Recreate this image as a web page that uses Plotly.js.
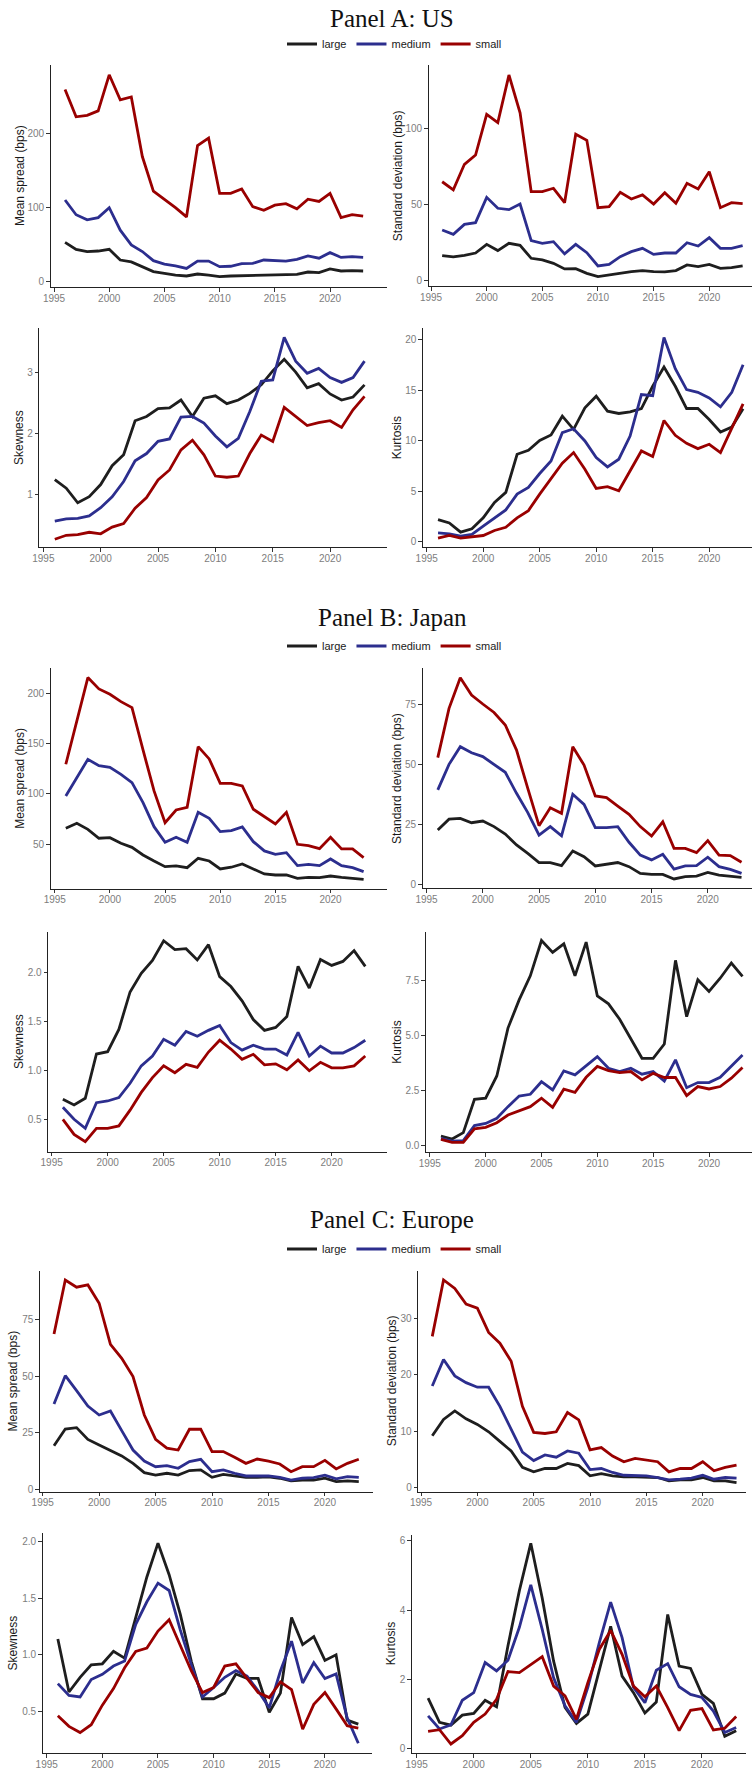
<!DOCTYPE html>
<html><head><meta charset="utf-8">
<script src="https://cdn.plot.ly/plotly-3.0.1.min.js"></script>
<style>html,body{margin:0;padding:0;background:#fff}#chart{width:752px;height:1769px}</style>
</head><body><div id="chart"></div>
<script>
const years = [1996,1997,1998,1999,2000,2001,2002,2003,2004,2005,2006,2007,2008,2009,2010,2011,2012,2013,2014,2015,2016,2017,2018,2019,2020,2021,2022,2023];
const seriesNames = ['large','medium','small'];
const xTicks = [1995,2000,2005,2010,2015,2020];
const panelTitles = ['Panel A: US','Panel B: Japan','Panel C: Europe'];
const statTitles = ['Mean spread (bps)','Standard deviation (bps)','Skewness','Kurtosis'];

// Panel A: US
const usMeanLarge  = [52.5,43,40,40.7,43,28.5,26,19.5,12.7,10.4,8,6.8,9.5,8,5.9,6.8,7.2,7.2,8,8,8,9,12.2,11.3,16.3,13.6,14,13.6];
const usMeanMedium = [110,90,83,86,99.5,69,49,40,27.6,23,20.4,17,27,27,19.5,20,23.5,24,28.5,27.6,27,29.4,34,31,38.5,32,33,32];
const usMeanSmall  = [260,223,225,231,280,246,250,169,122,111,99.5,87,184,194,119,119,125,101,96,103,105,98,111,108,119,86,90,88];
const usSdLarge  = [16.3,15.4,16.5,18,23.7,19.6,24.4,23.1,14.5,13.4,11.2,7.5,7.7,4.6,2.4,3.5,4.8,5.7,6.4,5.7,5.5,6.4,10.1,9,10.5,7.9,8.4,9.5];
const usSdMedium = [33.2,30.3,36.9,38,54.7,47.5,46.6,50.3,26.2,24.4,25.5,17.4,23.7,18.2,9.5,10.5,15.6,18.9,21.1,17.1,18,18,24.8,22.6,28.1,21.1,21.1,22.9];
const usSdSmall  = [65,59.6,76.5,82.6,109.5,104,135.4,110.5,58.5,58.5,60.7,51.2,96.3,92.3,47.9,48.6,58,53.6,56.3,50.3,57.8,50.8,64,60.2,71.6,47.9,51.2,50.5];
const usSkewLarge  = [1.24,1.10,0.86,0.96,1.16,1.47,1.65,2.21,2.28,2.41,2.42,2.55,2.28,2.58,2.62,2.49,2.55,2.66,2.80,3.03,3.22,3.01,2.75,2.82,2.65,2.55,2.60,2.80];
const usSkewMedium = [0.56,0.595,0.605,0.644,0.78,0.96,1.21,1.55,1.67,1.87,1.91,2.27,2.28,2.17,1.96,1.78,1.92,2.36,2.86,2.88,3.58,3.19,2.99,3.07,2.92,2.84,2.92,3.19];
const usSkewSmall  = [0.26,0.326,0.337,0.375,0.35,0.46,0.52,0.77,0.945,1.236,1.40,1.73,1.89,1.65,1.30,1.28,1.30,1.67,1.975,1.87,2.43,2.28,2.13,2.18,2.21,2.10,2.39,2.61];
const usKurtLarge  = [2.17,1.84,0.92,1.25,2.34,3.88,4.87,8.65,9.05,10.03,10.56,12.43,11.12,13.26,14.41,12.93,12.7,12.86,13.19,15.4,17.3,15.4,13.19,13.19,12.1,10.86,11.35,13.16];
const usKurtMedium = [0.86,0.76,0.53,0.69,1.51,2.34,3.13,4.70,5.36,6.74,7.99,10.79,11.18,9.97,8.32,7.40,8.16,10.46,14.57,14.47,20.23,17.14,15.07,14.8,14.24,13.36,14.8,17.53];
const usKurtSmall  = [0.33,0.59,0.33,0.49,0.59,1.09,1.41,2.34,3.06,4.70,6.18,7.76,8.82,7.17,5.26,5.43,5.03,7.0,8.98,8.42,12.0,10.53,9.74,9.21,9.64,8.82,11.3,13.65];

// Panel B: Japan
const jpMeanLarge  = [65.9,70.9,64.9,56,56.6,51,47,39.4,33.4,27.8,28.5,26.8,36.1,33.4,25.5,27.2,30.5,25.2,20.5,19.5,19.5,16.2,17.2,16.9,18.5,17.2,16.2,15.2];
const jpMeanMedium = [98,115.6,134.4,128.1,126.5,119.5,111.3,91.4,67.5,52,57,52,81.8,75.8,62.6,63.6,67.2,52.6,43.4,40,41.7,28.8,30.1,28.8,35.4,28.8,26.8,22.8];
const jpMeanSmall  = [129.5,173.5,215.6,204.3,199,191.7,185.8,143.7,103,71.5,84.1,86.8,147,134.8,110.6,110.6,107.9,84.8,77.5,70.2,81.8,50,48.7,45.7,57,45.4,45.4,36.8];
const jpSdLarge  = [22.8,27.3,27.6,25.8,26.5,24.2,21.1,16.6,13.1,9.3,9.3,8,14.1,11.7,7.9,8.7,9.3,7.6,4.8,4.4,4.4,2.5,3.5,3.7,5.2,4.1,3.5,3.2];
const jpSdMedium = [39.4,50,57.3,54.8,53.2,50,46.7,38,30,20.7,24.2,20.4,37.6,33.4,23.8,23.8,24.2,17.7,12.4,10.4,12.7,6.6,7.9,8,11.5,7.6,6.5,4.8];
const jpSdSmall  = [52.8,73.2,85.9,78.7,75,71.5,66.3,55.9,40,24.6,32,29.7,57.3,49.7,36.9,36.2,32.7,29.3,24.2,20.3,26.2,15.2,15.2,13.4,18.4,12.4,12.2,9.4];
const jpSkewLarge  = [0.71,0.652,0.72,1.17,1.194,1.42,1.80,1.99,2.12,2.32,2.23,2.24,2.125,2.28,1.956,1.855,1.71,1.52,1.41,1.44,1.55,2.06,1.84,2.13,2.07,2.11,2.22,2.06];
const jpSkewMedium = [0.63,0.507,0.415,0.676,0.693,0.727,0.873,1.05,1.15,1.32,1.26,1.40,1.35,1.41,1.46,1.286,1.21,1.26,1.22,1.22,1.16,1.39,1.15,1.25,1.18,1.18,1.235,1.31];
const jpSkewSmall  = [0.507,0.354,0.28,0.415,0.415,0.44,0.60,0.78,0.93,1.05,0.98,1.065,1.035,1.19,1.31,1.22,1.116,1.167,1.06,1.07,1.01,1.11,1.0,1.086,1.03,1.03,1.05,1.15];
const jpKurtLarge  = [0.44,0.30,0.59,2.10,2.15,3.16,5.33,6.61,7.70,9.30,8.76,9.15,7.70,9.23,6.79,6.43,5.73,4.84,3.96,3.96,4.61,8.40,5.85,7.52,6.99,7.59,8.28,7.67];
const jpKurtMedium = [0.33,0.21,0.23,0.91,1.01,1.24,1.77,2.25,2.33,2.90,2.53,3.39,3.21,3.62,4.04,3.51,3.36,3.51,3.24,3.36,2.93,3.89,2.63,2.86,2.86,3.10,3.62,4.11];
const jpKurtSmall  = [0.29,0.15,0.15,0.76,0.83,1.04,1.39,1.59,1.77,2.15,1.74,2.56,2.42,3.10,3.59,3.40,3.31,3.36,2.98,3.28,3.09,3.09,2.27,2.68,2.57,2.68,3.06,3.54];

// Panel C: Europe
const euMeanLarge  = [19.3,26.7,27.3,22.1,19.6,17.1,14.8,11.5,7.4,6.3,7.1,6.3,8.3,8.6,5.3,6.6,5.9,5.3,5.3,5.5,4.9,3.8,4.1,4.1,4.9,3.4,3.7,3.4];
const euMeanMedium = [37.8,50.3,43.7,36.9,32.9,34.7,26,17.4,12.5,10,10.5,9.3,12.3,13.3,7.8,8.6,7.1,5.9,5.9,5.9,5.3,4.1,4.9,5.2,6.3,4.6,5.6,5.3];
const euMeanSmall  = [68.8,92.7,89.5,90.5,82.4,64.2,58,49.9,32.9,22.1,18.2,17.4,26.6,26.6,16.7,16.7,14.2,11.5,13.4,12.5,11.2,7.8,10,10,12.8,9,11.5,13.3];
const euSdLarge  = [9.2,12.1,13.6,12.2,11.2,9.9,8.2,6.5,3.6,2.8,3.4,3.4,4.3,3.9,2.1,2.5,2.1,1.9,1.9,1.8,1.8,1.2,1.4,1.4,1.8,1.2,1.2,0.9];
const euSdMedium = [18,22.7,19.8,18.6,17.8,17.8,14.4,10.2,6.3,4.8,5.8,5.4,6.5,6.1,3.2,3.4,2.7,2.2,2.1,2.1,1.8,1.4,1.5,1.7,2.2,1.5,1.8,1.7];
const euSdSmall  = [26.8,36.8,35.3,32.5,31.8,27.5,25.6,22.4,14.4,9.8,9.6,9.9,13.3,12,6.7,7.1,5.6,4.6,5.2,4.9,4.6,2.8,3.4,3.4,4.6,3.0,3.6,4.0];
const euSkewLarge  = [1.14,0.67,0.80,0.91,0.92,1.03,0.97,1.34,1.69,1.99,1.71,1.36,0.94,0.61,0.61,0.66,0.83,0.79,0.79,0.49,0.66,1.33,1.09,1.16,0.95,1.00,0.42,0.385];
const euSkewMedium = [0.744,0.64,0.626,0.78,0.826,0.90,0.944,1.27,1.47,1.635,1.57,1.22,0.91,0.626,0.71,0.80,0.86,0.81,0.68,0.53,0.856,1.12,0.75,0.93,0.79,0.83,0.44,0.215];
const euSkewSmall  = [0.46,0.365,0.31,0.38,0.553,0.70,0.885,1.03,1.06,1.21,1.31,1.076,0.856,0.665,0.71,0.90,0.92,0.79,0.665,0.62,0.76,0.69,0.34,0.56,0.665,0.52,0.37,0.35];
const euKurtLarge  = [1.45,0.75,0.67,0.96,1.01,1.39,1.20,2.97,4.56,5.93,4.35,2.52,1.18,0.72,0.99,2.26,3.53,2.09,1.61,1.02,1.34,3.87,2.38,2.31,1.56,1.30,0.35,0.51];
const euKurtMedium = [0.94,0.56,0.68,1.39,1.61,2.48,2.24,2.55,3.50,4.73,3.44,2.04,1.23,0.75,1.76,3.05,4.23,3.20,1.76,1.32,2.26,2.45,1.78,1.56,1.47,1.08,0.46,0.60];
const euKurtSmall  = [0.49,0.54,0.125,0.365,0.75,0.99,1.42,2.22,2.19,2.43,2.65,1.80,1.52,0.84,1.90,2.86,3.41,2.72,1.80,1.49,1.80,1.18,0.51,1.10,1.15,0.53,0.58,0.92];

const W = 752, H = 1769;
const colors = ['#1e1e1e', '#2c2e8e', '#990000'];

// layout boxes in pixels: [left, right, top, bottom], axis ranges, y ticks, y-title x centre
const subplots = [
  {p:0, s:0, box:[50.7,387,65,287],    xr:[1994.70,2025.16], yr:[-8.15,293.3], t0:0, dt:100, fmt:'',    tx:20,    d:[usMeanLarge,usMeanMedium,usMeanSmall]},
  {p:0, s:1, box:[428.7,752,65,286],   xr:[1994.79,2023.84], yr:[-3.76,142.0], t0:0, dt:50,  fmt:'',    tx:397.7, d:[usSdLarge,usSdMedium,usSdSmall]},
  {p:0, s:2, box:[39.3,387,328.3,547], xr:[1994.65,2024.96], yr:[0.133,3.73],  t0:0, dt:1,   fmt:'',    tx:18.3,  d:[usSkewLarge,usSkewMedium,usSkewSmall]},
  {p:0, s:3, box:[423,752,328.3,547],  xr:[1994.67,2023.79], yr:[-0.55,21.15], t0:0, dt:5,   fmt:'',    tx:396.7, d:[usKurtLarge,usKurtMedium,usKurtSmall]},
  {p:1, s:0, box:[50.7,387,668.3,888.7], xr:[1994.63,2025.12], yr:[5.9,224.8], t0:0, dt:50,  fmt:'',    tx:19.3,  d:[jpMeanLarge,jpMeanMedium,jpMeanSmall]},
  {p:1, s:1, box:[422.7,752,668.3,888.3],xr:[1994.66,2023.93], yr:[-1.37,89.8], t0:0, dt:25,  fmt:'',    tx:397.7, d:[jpSdLarge,jpSdMedium,jpSdSmall]},
  {p:1, s:2, box:[48.3,387,931.7,1151.7],xr:[1994.70,2024.94], yr:[0.178,2.412],t0:0, dt:0.5, fmt:'.1f', tx:18.3,  d:[jpSkewLarge,jpSkewMedium,jpSkewSmall]},
  {p:1, s:3, box:[426,752,931.7,1152.3], xr:[1994.66,2023.85], yr:[-0.3,9.70],  t0:0, dt:2.5, fmt:'.1f', tx:396.7, d:[jpKurtLarge,jpKurtMedium,jpKurtSmall]},
  {p:2, s:0, box:[40,373,1270.7,1491.7], xr:[1994.76,2024.26], yr:[-1.06,96.8], t0:0, dt:25,  fmt:'',    tx:13.3,  d:[euMeanLarge,euMeanMedium,euMeanSmall]},
  {p:2, s:1, box:[418.3,746,1270.7,1491.7],xr:[1994.76,2023.84],yr:[-0.71,38.43],t0:0,dt:10, fmt:'',    tx:392,   d:[euSdLarge,euSdMedium,euSdSmall]},
  {p:2, s:2, box:[42.7,372,1533.3,1753], xr:[1994.64,2024.23], yr:[0.129,2.077],t0:0, dt:0.5, fmt:'.1f', tx:13.3,  d:[euSkewLarge,euSkewMedium,euSkewSmall]},
  {p:2, s:3, box:[412,746,1535,1753.3],  xr:[1994.59,2023.86], yr:[-0.144,6.17],t0:0, dt:2,   fmt:'',    tx:391,   d:[euKurtLarge,euKurtMedium,euKurtSmall]}
];
const panelTitleY = [19, 617.5, 1219];
const legendY = [44, 646, 1249];
const legendIds = ['legend','legend2','legend3'];

const tickFont = {family:'Liberation Sans, Arial, sans-serif', size:10, color:'#7d7d7d'};
const traces = [];
const layout = {
  width:W, height:H, margin:{l:0,r:0,t:0,b:0},
  paper_bgcolor:'#ffffff', plot_bgcolor:'rgba(0,0,0,0)',
  showlegend:true, annotations:[], font:{family:'Liberation Sans, Arial, sans-serif', color:'#1a1a1a'}
};

subplots.forEach((sp, i) => {
  const n = i === 0 ? '' : String(i + 1);
  const [L, R, T, B] = sp.box;
  layout['xaxis' + n] = {
    domain:[L / W, Math.min(R / W, 1)], range:sp.xr, anchor:'y' + n,
    tickmode:'array', tickvals:xTicks, showgrid:false, zeroline:false,
    showline:true, linecolor:'#222', linewidth:1.1,
    ticks:'outside', ticklen:3.5, tickwidth:1, tickcolor:'#333',
    ticklabelstandoff:-2,
    tickfont:tickFont, fixedrange:true
  };
  layout['yaxis' + n] = {
    domain:[1 - B / H, 1 - T / H], range:sp.yr, anchor:'x' + n,
    tick0:sp.t0, dtick:sp.dt, tickformat:sp.fmt, showgrid:false, zeroline:false,
    showline:true, linecolor:'#222', linewidth:1.1,
    ticks:'outside', ticklen:3.5, tickwidth:1, tickcolor:'#333',
    tickfont:tickFont, fixedrange:true
  };
  sp.d.forEach((vals, k) => {
    traces.push({
      type:'scatter', mode:'lines', x:years, y:vals, name:seriesNames[k],
      xaxis:'x' + n, yaxis:'y' + n,
      line:{color:colors[k], width:2.8},
      legend:legendIds[sp.p], showlegend:sp.s === 0, hoverinfo:'skip'
    });
  });
  layout.annotations.push({
    xref:'paper', yref:'paper', x:sp.tx / W, y:1 - ((T + B) / 2) / H,
    xanchor:'center', yanchor:'middle', textangle:-90, showarrow:false,
    text:statTitles[sp.s], font:{family:'Liberation Sans, Arial, sans-serif', size:12, color:'#1a1a1a'}
  });
});

panelTitles.forEach((t, p) => {
  layout.annotations.push({
    xref:'paper', yref:'paper', x:392 / W, y:1 - panelTitleY[p] / H,
    xanchor:'center', yanchor:'middle', showarrow:false, text:t,
    font:{family:'Liberation Serif, Times New Roman, serif', size:25, color:'#111'}
  });
  layout[legendIds[p]] = {
    orientation:'h', x:282 / W, xanchor:'left', y:1 - legendY[p] / H, yanchor:'middle',
    bgcolor:'rgba(0,0,0,0)', borderwidth:0, itemwidth:30, traceorder:'normal',
    font:{family:'Liberation Sans, Arial, sans-serif', size:11, color:'#1a1a1a'},
    itemclick:false, itemdoubleclick:false
  };
});

Plotly.newPlot('chart', traces, layout, {staticPlot:true, displayModeBar:false});
</script>
</body></html>
